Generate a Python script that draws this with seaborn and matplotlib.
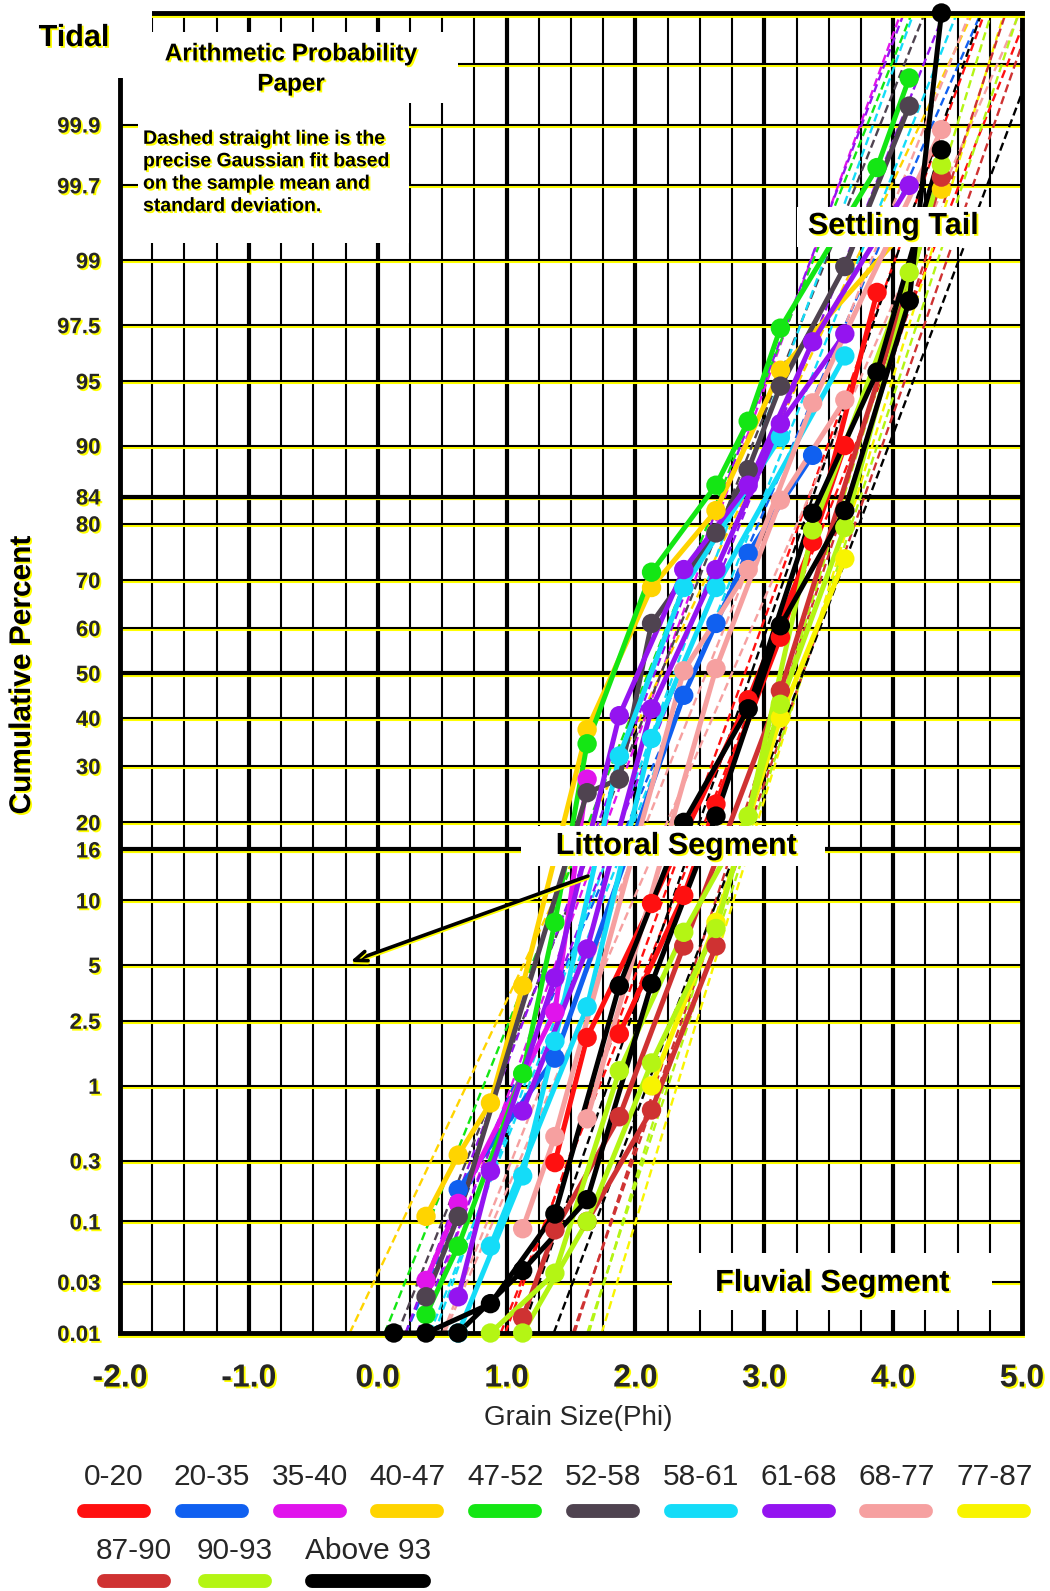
import matplotlib
matplotlib.use('Agg')
import matplotlib.pyplot as plt
import matplotlib.patheffects as pe
from matplotlib.patches import Rectangle
from matplotlib.ticker import NullLocator
import numpy as np
import pandas as pd
import seaborn as sns
from statistics import NormalDist

# size classes (legend) and their colours
classes = ['0-20', '20-35', '35-40', '40-47', '47-52', '52-58', '58-61',
           '61-68', '68-77', '77-87', '87-90', '90-93', 'Above 93']
class_colors = ['#ff1010', '#1060f0', '#e014ec', '#ffd400', '#14e614', '#4f4350',
                '#14dcf8', '#9414f0', '#f6a0a0', '#f8f400', '#cf3232', '#b4f514', '#000000']

# cumulative percent per sample, read at quarter-phi class midpoints
red1_phi = [1.375, 1.625, 2.125, 2.875, 3.375, 3.875]
red1_pct = [0.29, 2.0, 9.7, 44, 77, 98.4]
red2_phi = [1.875, 2.375, 2.625, 3.125, 3.625]
red2_pct = [2.1, 10.5, 23, 58, 90]
blue1_phi = [0.625, 1.375, 2.375, 2.625, 2.875, 3.375]
blue1_pct = [0.18, 1.5, 45, 61, 75, 89]
mag1_phi = [0.375, 0.625, 1.375, 1.625]
mag1_pct = [0.031, 0.14, 2.8, 27.5]
gold1_phi = [0.375, 0.625, 0.875, 1.125, 1.625, 2.125, 2.625, 3.125, 4.375]
gold1_pct = [0.11, 0.33, 0.77, 3.9, 37.5, 68.5, 82, 95.6, 99.68]
green1_phi = [0.375, 0.625, 1.125, 1.375, 1.625, 2.125, 2.625, 2.875, 3.125, 3.875, 4.125]
green1_pct = [0.015, 0.062, 1.2, 8, 34.5, 71.5, 85.5, 92.2, 97.4, 99.78, 99.96]
grey1_phi = [0.375, 0.625, 1.625, 1.875, 2.125, 2.625, 2.875, 3.125, 3.625, 4.125]
grey1_pct = [0.022, 0.11, 25, 27.5, 61, 78.5, 87.4, 94.7, 98.9, 99.93]
cyan1_phi = [0.625, 1.125, 1.375, 1.875, 2.375, 3.125]
cyan1_pct = [0.01, 0.23, 1.9, 32, 68.5, 90.8]
cyan2_phi = [0.875, 1.625, 2.125, 2.625, 3.625]
cyan2_pct = [0.062, 3.0, 35.6, 68.5, 96.3]
pur1_phi = [0.625, 0.875, 1.375, 1.875, 2.375, 2.875, 3.375, 4.125]
pur1_pct = [0.022, 0.25, 4.3, 40.5, 72, 85.5, 96.9, 99.7]
pur2_phi = [1.125, 1.625, 2.125, 2.625, 3.125, 3.625]
pur2_pct = [0.68, 6, 42, 72, 92, 97.2]
pink1_phi = [1.125, 1.375, 2.375, 2.875, 3.375, 4.375]
pink1_pct = [0.087, 0.45, 50.5, 72, 93.6, 99.89]
pink2_phi = [1.625, 2.625, 3.125, 3.625]
pink2_pct = [0.6, 51, 83.5, 93.8]
yel1_phi = [2.125, 2.625, 3.125, 3.625]
yel1_pct = [1.0, 8.0, 40, 74]
dred1_phi = [1.125, 1.375, 1.875, 2.375, 3.125, 4.375]
dred1_pct = [0.014, 0.085, 0.62, 6.2, 46, 99.74]
dred2_phi = [1.625, 2.125, 2.625]
dred2_pct = [0.1, 0.69, 6.2]
yg1_phi = [0.875, 1.375, 1.875, 2.375, 2.875, 3.375, 4.125]
yg1_pct = [0.01, 0.036, 1.25, 7.2, 21, 79, 98.8]
yg2_phi = [1.125, 1.625, 2.125, 2.625, 3.125, 3.625, 4.375]
yg2_pct = [0.01, 0.1, 1.4, 7.5, 43, 79.4, 99.79]
blk1_phi = [0.125, 0.625, 1.125, 1.625, 2.125, 2.625, 3.125, 3.625, 4.125, 4.375]
blk1_pct = [0.01, 0.01, 0.038, 0.15, 4.0, 21, 60.5, 82, 98.2, 99.99]
blk2_phi = [0.375, 0.875, 1.375, 1.875, 2.375, 2.875, 3.375, 3.875, 4.375]
blk2_pct = [0.01, 0.019, 0.115, 3.9, 20, 42, 81.6, 95.5, 99.84]

sample_names = ['red1', 'red2', 'blue1', 'mag1', 'gold1', 'green1', 'grey1', 'cyan1', 'cyan2',
                'pur1', 'pur2', 'pink1', 'pink2', 'yel1', 'dred1', 'dred2', 'yg1', 'yg2',
                'blk1', 'blk2']
sample_class = ['0-20', '0-20', '20-35', '35-40', '40-47', '47-52', '52-58', '58-61', '58-61',
                '61-68', '61-68', '68-77', '68-77', '77-87', '87-90', '87-90', '90-93', '90-93',
                'Above 93', 'Above 93']
# Gaussian fit (mean, standard deviation in phi) -> dashed straight lines
fit_mean = [2.85, 3.0, 2.45, 2.2, 2.2, 2.1, 2.2, 2.3, 2.45,
            2.15, 2.35, 2.55, 2.75, 3.3, 3.2, 3.3, 3.2, 3.3, 2.9, 3.3]
fit_sd = [0.5, 0.55, 0.6, 0.5, 0.65, 0.55, 0.55, 0.5, 0.55,
          0.52, 0.55, 0.55, 0.6, 0.42, 0.45, 0.48, 0.42, 0.45, 0.48, 0.52]

ytick_vals = [0.01, 0.03, 0.1, 0.3, 1, 2.5, 5, 10, 16, 20, 30, 40, 50, 60, 70, 80, 84,
              90, 95, 97.5, 99, 99.7, 99.9]
ytick_labels = ['0.01', '0.03', '0.1', '0.3', '1', '2.5', '5', '10', '16', '20', '30', '40',
                '50', '60', '70', '80', '84', '90', '95', '97.5', '99', '99.7', '99.9']
xtick_vals = [-2, -1, 0, 1, 2, 3, 4, 5]

phi_lists = [red1_phi, red2_phi, blue1_phi, mag1_phi, gold1_phi, green1_phi, grey1_phi,
             cyan1_phi, cyan2_phi, pur1_phi, pur2_phi, pink1_phi, pink2_phi, yel1_phi,
             dred1_phi, dred2_phi, yg1_phi, yg2_phi, blk1_phi, blk2_phi]
pct_lists = [red1_pct, red2_pct, blue1_pct, mag1_pct, gold1_pct, green1_pct, grey1_pct,
             cyan1_pct, cyan2_pct, pur1_pct, pur2_pct, pink1_pct, pink2_pct, yel1_pct,
             dred1_pct, dred2_pct, yg1_pct, yg2_pct, blk1_pct, blk2_pct]

rows = []
for name, cls, ph, pc in zip(sample_names, sample_class, phi_lists, pct_lists):
    for a, b in zip(ph, pc):
        rows.append({'sample': name, 'cls': cls, 'phi': a, 'pct': b})
df = pd.DataFrame(rows)
df['order'] = df['cls'].map({c: i for i, c in enumerate(classes)})
df = df.sort_values(['order', 'sample'], kind='stable')
palette = dict(zip(classes, class_colors))

# normal probability scale
nd = NormalDist()
_ppf = np.vectorize(nd.inv_cdf, otypes=[float])
_cdf = np.vectorize(nd.cdf, otypes=[float])


def to_z(p):
    p = np.clip(np.asarray(p, dtype=float) / 100.0, 1e-7, 1 - 1e-7)
    return _ppf(p)


def from_z(z):
    return 100.0 * _cdf(np.asarray(z, dtype=float))


sns.set_style('white')
plt.rcParams['font.family'] = ['Liberation Sans', 'DejaVu Sans']

yshadow_txt = [pe.withSimplePatchShadow(offset=(1.3, -1.3), shadow_rgbFace='#ffff00', alpha=1.0)]
yshadow_line = [pe.SimpleLineShadow(offset=(0, -1.4), shadow_color='#ffff00', alpha=1.0), pe.Normal()]

fig = plt.figure(figsize=(10.5, 15.91), dpi=100)
ax = fig.add_axes([120 / 1050, 1 - 1333 / 1591, 902 / 1050, 1320 / 1591])
ax.set_yscale('function', functions=(to_z, from_z))
ax.set_xlim(-2, 5)
ax.set_ylim(0.01, 99.99)

# probability paper grid
for v in np.arange(-1.75, 5.0, 0.25):
    thick = abs(v - round(v)) < 1e-9
    ax.axvline(v, color='black', lw=3.0 if thick else 1.5, zorder=1)
for p in ytick_vals[1:] + [99.97]:
    thick = p in (16, 50, 84)
    ax.axhline(p, color='black', lw=3.0 if thick else 1.5, zorder=1,
               path_effects=yshadow_line)

# dashed Gaussian fits
z_lo = nd.inv_cdf(0.0001)
for cls, m, s in zip(sample_class, fit_mean, fit_sd):
    ax.plot([m + z_lo * s, m - z_lo * s], [0.01, 99.99], color=palette[cls],
            lw=1.7, ls=(0, (3.5, 1.8)), zorder=2)

sns.lineplot(data=df, x='phi', y='pct', hue='cls', units='sample', estimator=None,
             sort=False, palette=palette, hue_order=classes, linewidth=3.6,
             legend=False, ax=ax, zorder=3)
sns.scatterplot(data=df, x='phi', y='pct', hue='cls', palette=palette, hue_order=classes,
                s=195, linewidth=0, legend=False, ax=ax, zorder=4, clip_on=False)

ax.set_yticks(ytick_vals)
ax.set_yticklabels(ytick_labels, fontsize=16, fontweight='bold')
ax.yaxis.set_minor_locator(NullLocator())
ax.set_xticks(xtick_vals)
ax.set_xticklabels([f'{v:.1f}' for v in xtick_vals], fontsize=23, fontweight='bold')
ax.tick_params(axis='y', length=0, pad=14)
ax.tick_params(axis='x', length=0, pad=22)
for t in ax.get_xticklabels() + ax.get_yticklabels():
    t.set_path_effects(yshadow_txt)
ax.set_xlabel('')
ax.set_ylabel('')
for side, sp in ax.spines.items():
    sp.set_linewidth(3.5)
    sp.set_color('black')
    if side in ('bottom', 'top'):
        sp.set_path_effects(yshadow_line)

# overlay in pixel coordinates for annotations and legend
ov = fig.add_axes([0, 0, 1, 1])
ov.set_xlim(0, 1050)
ov.set_ylim(1591, 0)
ov.axis('off')
ov.set_zorder(3)

for x0, y0, w, h in [(100, 0, 52, 78), (124, 32, 334, 71), (138, 103, 271, 140),
                     (797, 207, 198, 40), (521, 826, 304, 40), (672, 1253, 320, 57)]:
    ov.add_patch(Rectangle((x0, y0), w, h, facecolor='white', edgecolor='none', zorder=1))

bold = dict(fontweight='bold', color='black', path_effects=yshadow_txt, zorder=3)
ov.text(74, 38, 'Tidal', fontsize=22, ha='center', va='center', **bold)
ov.text(291, 69, 'Arithmetic Probability\nPaper', fontsize=17.5, ha='center', va='center',
        linespacing=1.4, **bold)
ov.text(143, 173, 'Dashed straight line is the\nprecise Gaussian fit based\n'
        'on the sample mean and\nstandard deviation.', fontsize=14, ha='left', va='center',
        linespacing=1.42, **bold)
ov.text(893, 226, 'Settling Tail', fontsize=22, ha='center', va='center', **bold)
ov.text(676, 846, 'Littoral Segment', fontsize=22, ha='center', va='center', **bold)
ov.text(832, 1283, 'Fluvial Segment', fontsize=22, ha='center', va='center', **bold)
ov.text(22, 675, 'Cumulative Percent', fontsize=21.5, rotation=90, ha='center', va='center',
        **bold)

ov.text(578, 1418, 'Grain Size(Phi)', fontsize=20, ha='center', va='center')

arr = ov.annotate('', xy=(350, 962), xytext=(588, 876),
                  arrowprops=dict(arrowstyle='->,head_length=0.9,head_width=0.35',
                                  lw=2.6, color='black', shrinkA=0, shrinkB=0))
arr.arrow_patch.set_path_effects(yshadow_line)

# hand-drawn style legend
for i, (cls, col) in enumerate(zip(classes, class_colors)):
    if i < 10:
        cx, ty, by, half = 114 + 97.8 * i, 1477, 1511, 30
    else:
        j = i - 10
        cx, ty, by, half = 134 + 101 * j + (32 if j == 2 else 0), 1551, 1581, 30 + (26 if j == 2 else 0)
    ov.text(cx, ty, cls, fontsize=21.5, ha='center', va='center')
    ov.plot([cx - half, cx + half], [by, by], color=col, lw=10, solid_capstyle='round')

fig.savefig('out.png', dpi=100, facecolor='white')
